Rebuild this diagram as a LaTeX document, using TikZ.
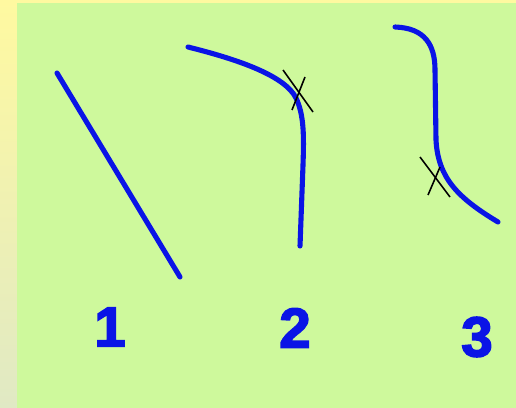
\documentclass[tikz,border=0pt]{standalone}
\usepackage{fontspec}
\setsansfont{Liberation Sans}
\newfontfamily\digitfont{Liberation Sans}[BoldFeatures={FakeBold=3}]
\usepackage{tikz}
\definecolor{stripyellow}{HTML}{FFF9A0}
\definecolor{stripfade}{HTML}{E0E9C4}
\definecolor{boardgreen}{HTML}{CEF99C}
\definecolor{inkblue}{HTML}{0A14E6}

\begin{document}
\begin{tikzpicture}[
  x=0.02cm,y=-0.02cm,
  stroke/.style={inkblue,line width=2.9pt,line cap=round,line join=round},
  cross/.style={black,line width=0.9pt},
  digit/.style={inkblue,font=\digitfont\bfseries\fontsize{32}{32}\selectfont,inner sep=0pt}
]
  % background
  \shade[top color=stripyellow,bottom color=stripfade] (0,0) rectangle (516,408);
  \fill[boardgreen] (17,3) rectangle (516,408);
  \useasboundingbox (0,0) rectangle (516,408);

  % line 1
  \draw[stroke] (57,73) -- (180,277);
  % curve 2
  \draw[stroke] (188,47) .. controls (240,60) and (285,76) .. (296,98)
    .. controls (304,115) and (304,135) .. (303,165) -- (300,246);
  \draw[cross] (283,70) -- (313,112);
  \draw[cross] (305,77) -- (292,110);
  % curve 3
  \draw[stroke] (395,27) .. controls (425,28) and (435,45) .. (435,70)
    -- (436,140) .. controls (438,178) and (458,198) .. (498,222);
  \draw[cross] (420,157) -- (450,197);
  \draw[cross] (440,167) -- (428,195);

  % numbers
  \node[digit] (one) at (110,327) {1};
  \node[digit] (two) at (295,328) {2};
  \node[digit] (three) at (477,337) {3};
\end{tikzpicture}
\end{document}
